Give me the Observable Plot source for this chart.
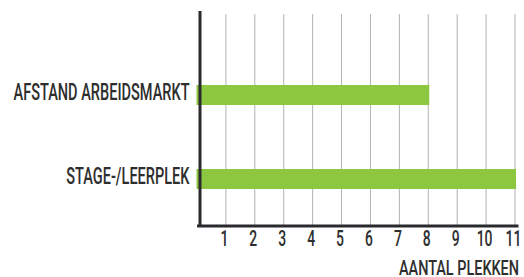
<!DOCTYPE html>
<html>
<head>
<meta charset="utf-8">
<script src="https://cdn.jsdelivr.net/npm/d3@7"></script>
<script src="https://cdn.jsdelivr.net/npm/@observablehq/plot@0.6"></script>
<style>
  html, body { margin: 0; padding: 0; background: #fff; }
  svg text { font-family: Roboto, "Liberation Sans", sans-serif; font-weight: 500; }
</style>
</head>
<body>
<script>
const categories = ["AFSTAND ARBEIDSMARKT", "STAGE-/LEERPLEK"];
const values = [8, 11];
const xTicks = [1, 2, 3, 4, 5, 6, 7, 8, 9, 10, 11];
const xLabel = "AANTAL PLEKKEN";

const data = categories.map((c, i) => ({category: c, value: values[i]}));
const textColor = "#2e2e2e";

const chart = Plot.plot({
  width: 524,
  height: 277,
  marginLeft: 196.5,
  marginRight: 9.5,
  marginTop: 14,
  marginBottom: 51.5,
  style: {background: "#ffffff", color: textColor},
  x: {domain: [0, 11]},
  y: {domain: categories, range: [43.3, 231.3], paddingInner: 0.762, paddingOuter: 0.5},
  marks: [
    Plot.ruleX(xTicks, {stroke: "#b3b3b3", strokeWidth: 1}),
    Plot.barX(data, {x: "value", y: "category", fill: "#8dc63f", insetRight: -1.5}),
    Plot.ruleX([0], {stroke: "#2a2a2e", strokeWidth: 3, dx: 3, insetTop: -3, insetBottom: -1.5}),
    Plot.frame({anchor: "bottom", stroke: "#2a2a2e", strokeWidth: 3, insetLeft: 1.5, insetRight: -2}),
    Plot.axisY({tickSize: 0, tickPadding: 7.5, dy: -3, fontSize: 23, fill: textColor, label: null}),
    Plot.axisX({ticks: xTicks, tickSize: 0, tickPadding: 4, dx: -1.5, fontSize: 22, fill: textColor, label: null}),
    Plot.text([xLabel], {frameAnchor: "bottom-right", dx: 4, dy: 49, lineAnchor: "bottom", textAnchor: "end", fontSize: 20.5, fill: textColor})
  ]
});
document.body.append(chart);

// Condense all texts horizontally to mimic a narrow display face
const texts = Array.from(chart.querySelectorAll("text"));
const ref = texts.find(t => t.textContent === categories[0]);
const factor = ref ? 176 / ref.getComputedTextLength() : 0.6;
texts.forEach(t => {
  const len = t.getComputedTextLength();
  const target = t.textContent === xLabel ? 120 : len * factor;
  t.setAttribute("textLength", target.toFixed(2));
  t.setAttribute("lengthAdjust", "spacingAndGlyphs");
});
</script>
</body>
</html>
